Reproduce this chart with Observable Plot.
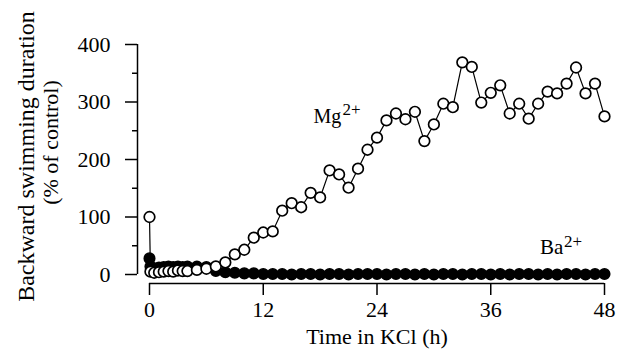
<!DOCTYPE html>
<html>
<head>
<meta charset="utf-8">
<script src="https://cdn.jsdelivr.net/npm/d3@7"></script>
<script src="https://cdn.jsdelivr.net/npm/@observablehq/plot@0.6"></script>
<style>
  body { margin: 0; background: white; }
  svg text { font-family: 'Liberation Serif', 'Times New Roman', serif; }
</style>
</head>
<body>
<div id="chart"></div>
<script>
// Mg2+ series (open circles)
const mgTime  = [0, 0.1, 0.5, 1, 1.5, 2, 2.5, 3, 3.5, 4, 5, 6, 7, 8, 9, 10, 11, 12, 13, 14, 15, 16, 17, 18, 19, 20, 21, 22, 23, 24, 25, 26, 27, 28, 29, 30, 31, 32, 33, 34, 35, 36, 37, 38, 39, 40, 41, 42, 43, 44, 45, 46, 47, 48];
const mgValue = [100, 5, 3, 4, 5, 6, 5, 7, 6, 6, 8, 10, 14, 21, 35, 43, 64, 73, 75, 111, 124, 117, 142, 134, 181, 174, 151, 184, 217, 238, 268, 280, 270, 283, 232, 261, 297, 291, 369, 361, 299, 316, 329, 280, 297, 271, 297, 318, 315, 332, 360, 315, 332, 275];

// Ba2+ series (filled circles)
const baTime  = [0, 0.1, 0.5, 1, 1.5, 2, 2.5, 3, 3.5, 4, 5, 6, 7, 8, 9, 10, 11, 12, 13, 14, 15, 16, 17, 18, 19, 20, 21, 22, 23, 24, 25, 26, 27, 28, 29, 30, 31, 32, 33, 34, 35, 36, 37, 38, 39, 40, 41, 42, 43, 44, 45, 46, 47, 48];
const baValue = [28, 14, 11, 12, 13, 14, 13, 14, 13, 14, 14, 13, 6, 4, 3, 2, 2, 1, 1, 1, 0, 1, 1, 0, 1, 1, 0, 1, 1, 1, 0, 1, 1, 0, 1, 0, 1, 1, 0, 1, 1, 0, 1, 0, 1, 1, 0, 1, 0, 1, 1, 0, 1, 1];

// Tick values
const xTicks = [0, 12, 24, 36, 48];
const yTicks = [0, 100, 200, 300, 400];
const yMinorTicks = [50, 150, 250, 350];

// Series labels (text, anchor position in data units)
const labelText = ["Mg", "Ba"];
const labelX = [17.3, 41.2];
const labelY = [263, 36];
const supText = ["2+", "2+"];

const mg = mgTime.map((t, i) => ({t, v: mgValue[i]}));
const ba = baTime.map((t, i) => ({t, v: baValue[i]}));

const font = "'Liberation Serif', 'Times New Roman', serif";

const chart = Plot.plot({
  width: 625,
  height: 350,
  marginLeft: 149,
  marginRight: 21,
  marginTop: 44,
  marginBottom: 76,
  style: {fontFamily: font, fontSize: "22px", background: "white", color: "black"},
  x: {domain: [0, 48]},
  y: {domain: [0, 400]},
  marks: [
    Plot.ruleX([0], {y1: 0, y2: 400, dx: -12, stroke: "black", strokeWidth: 1.5}),
    Plot.ruleY([0], {x1: 0, x2: 48, dy: 9, stroke: "black", strokeWidth: 1.5}),
    Plot.axisY({ticks: yTicks, tickSize: 12, tickPadding: 15, dx: -12, label: null, strokeWidth: 1.5, fontSize: 22, fontFamily: font}),
    Plot.axisY({ticks: yMinorTicks, tickSize: 5, text: null, dx: -12, label: null, strokeWidth: 1.5}),
    Plot.axisX({ticks: xTicks, tickSize: 12, tickPadding: 6, dy: 9, label: null, strokeWidth: 1.5, fontSize: 22, fontFamily: font}),
    Plot.text(["Time in KCl (h)"], {frameAnchor: "bottom", lineAnchor: "bottom", dy: 69, fontSize: 22, fill: "black"}),
    Plot.text(["Backward swimming duration"], {frameAnchor: "left", textAnchor: "middle", lineAnchor: "bottom", rotate: -90, dx: -116, dy: -3, fontSize: 24, fill: "black"}),
    Plot.text(["(% of control)"], {frameAnchor: "left", textAnchor: "middle", lineAnchor: "bottom", rotate: -90, dx: -92, dy: -17, fontSize: 22, fill: "black"}),
    Plot.line(ba, {x: "t", y: "v", stroke: "black", strokeWidth: 1.2}),
    Plot.dot(ba, {x: "t", y: "v", r: 5.3, fill: "black", stroke: "black", strokeWidth: 1.5}),
    Plot.line(mg, {x: "t", y: "v", stroke: "black", strokeWidth: 1.2}),
    Plot.dot(mg, {x: "t", y: "v", r: 5.3, fill: "white", stroke: "black", strokeWidth: 1.7}),
    Plot.text([0], {x: labelX[0], y: labelY[0], text: [labelText[0]], textAnchor: "start", lineAnchor: "bottom", fontSize: 20, fill: "black"}),
    Plot.text([0], {x: labelX[0], y: labelY[0], text: [supText[0]], textAnchor: "start", lineAnchor: "bottom", dx: 29, dy: -8, fontSize: 17, fill: "black"}),
    Plot.text([0], {x: labelX[1], y: labelY[1], text: [labelText[1]], textAnchor: "start", lineAnchor: "bottom", fontSize: 21, fill: "black"}),
    Plot.text([0], {x: labelX[1], y: labelY[1], text: [supText[1]], textAnchor: "start", lineAnchor: "bottom", dx: 24, dy: -7, fontSize: 17, fill: "black"})
  ]
});
document.getElementById("chart").appendChild(chart);
</script>
</body>
</html>
